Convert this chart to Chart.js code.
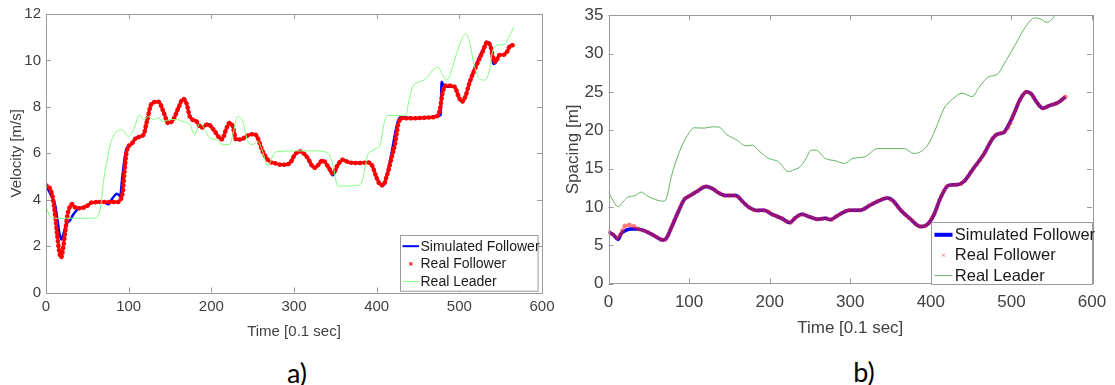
<!DOCTYPE html>
<html>
<head>
<meta charset="utf-8">
<script src="https://cdn.jsdelivr.net/npm/chart.js@4.4.1/dist/chart.umd.min.js"></script>
<style>
    body { margin: 0; background: #fff; width: 1115px; height: 385px; overflow: hidden; position: relative; }
    canvas { position: absolute; top: 0; }
    #velChart { left: 0; }
    #spcChart { left: 560px; }
    .tag { position: absolute; font-family: Lato, "Open Sans", sans-serif; font-size: 27px; color: #000;
           transform: translate(-50%, -50%); }
</style>
</head>
<body>
<canvas id="velChart" width="560" height="345"></canvas>
<canvas id="spcChart" width="555" height="345"></canvas>
<div class="tag" style="left:297px; top:372px;">a)</div>
<div class="tag" style="left:864px; top:371px;">b)</div>
<script>
// ---- a) velocity, time in 0.1 s ----
var velRealT = [0, 3, 5.3, 8.5, 11.3, 13.4, 15.8, 18.2, 20.6, 23.4, 26.2, 29.4, 31.4, 35.5, 41.5, 49.6, 55.6, 69.6, 85.8, 89.8,
    93, 94.6, 97, 99.8, 102, 110, 118, 122, 128, 136, 142, 148, 154, 160, 166, 170, 174, 182, 188, 196,
    202, 210, 213, 218, 222, 226, 230, 236, 242, 252, 256, 262, 270, 278, 285, 295, 301, 307, 315, 325,
    335, 341, 347, 353, 359, 367, 379, 389, 394, 400, 404, 408, 412, 414, 418, 422, 426, 429, 444, 464,
    472, 476, 480, 484, 494, 500, 503, 508, 512, 520, 528, 534, 538, 541, 544, 548, 554, 558, 562, 566];
var velRealV = [4.62, 4.55, 4.45, 4.02, 3.23, 2.52, 1.81, 1.5, 1.88, 2.66, 3.38, 3.73, 3.81, 3.66, 3.63, 3.73, 3.88, 3.9, 3.9, 3.98,
    4.38, 5.09, 5.94, 6.3, 6.35, 6.68, 6.8, 7.37, 8.15, 8.22, 7.8, 7.3, 7.45, 7.94, 8.34, 8.15, 7.58, 7.37, 7.1, 7.25,
    7.05, 6.66, 6.6, 7.05, 7.3, 7.15, 6.59, 6.59, 6.73, 6.83, 6.66, 6.09, 5.66, 5.56, 5.5, 5.57, 5.94, 6.08, 5.87, 5.37,
    5.69, 5.44, 5.13, 5.5, 5.72, 5.6, 5.58, 5.6, 5.5, 4.94, 4.66, 4.62, 5.0, 5.23, 5.8, 6.37, 7.23, 7.51, 7.51, 7.54,
    7.58, 7.8, 8.65, 8.91, 8.87, 8.37, 8.22, 8.51, 9.01, 9.72, 10.36, 10.79, 10.58, 10.08, 9.94, 10.22, 10.25, 10.39, 10.65, 10.65];

var velSimT = [0, 7.3, 11.3, 14, 18.2, 21, 24.6, 28.6, 33.4, 39.5, 45, 49.6, 55.6, 69.6, 75.7, 79.7, 85.8, 89.8, 91.8, 94.6,
    97, 99.8, 102, 110, 118, 122, 128, 136, 142, 148, 154, 160, 166, 170, 174, 182, 188, 196, 202, 210,
    213, 218, 222, 226, 230, 236, 242, 252, 256, 262, 270, 278, 285, 295, 301, 307, 315, 325, 335, 341,
    347, 350, 353, 359, 367, 379, 389, 394, 400, 404, 408, 412, 418, 422, 426, 429, 444, 464, 472, 477.5,
    478.5, 482, 494, 500, 503, 508, 512, 520, 528, 534, 538, 541, 544, 548, 554, 558, 562, 566];
var velSimV = [4.62, 4.1, 3.73, 3.09, 2.28, 2.52, 2.95, 3.09, 3.38, 3.62, 3.66, 3.73, 3.88, 3.9, 3.8, 4.02, 4.26, 4.16, 4.8, 5.66,
    6.16, 6.3, 6.35, 6.68, 6.8, 7.37, 8.15, 8.22, 7.8, 7.3, 7.45, 7.94, 8.34, 8.15, 7.58, 7.37, 7.1, 7.25, 7.05, 6.66,
    6.6, 7.05, 7.3, 7.15, 6.59, 6.59, 6.73, 6.83, 6.66, 6.09, 5.66, 5.56, 5.5, 5.57, 5.94, 6.08, 5.87, 5.37, 5.69, 5.44,
    5.05, 5.2, 5.5, 5.72, 5.6, 5.58, 5.6, 5.5, 4.94, 4.7, 4.6, 5.0, 6.0, 6.8, 7.4, 7.55, 7.51, 7.54, 7.6, 7.65,
    9.08, 8.87, 8.87, 8.37, 8.22, 8.51, 9.01, 9.8, 10.42, 10.79, 10.58, 9.85, 9.9, 10.22, 10.25, 10.39, 10.65, 10.65];

var velLeadT = [0, 4.5, 9, 25, 57.6, 63.6, 66.5, 69.6, 73.7, 77.7, 83.8, 91.8, 99.9, 106, 113, 118, 124, 130, 136, 142,
    150, 158, 166, 174, 180, 186, 192, 198, 206, 214, 222, 226, 232, 238, 244, 250, 256, 262, 268, 272,
    276, 282, 303, 327, 341, 347, 353, 363, 379, 383.5, 389.5, 393.5, 399, 404, 409, 413, 435.7, 438, 443.7, 452,
    460, 468, 474, 480, 484, 488, 496, 504, 508, 512, 518, 524, 530, 536, 540, 544, 554, 560, 566];
var velLeadV = [3.7, 3.3, 3.2, 3.2, 3.2, 3.35, 3.8, 4.8, 5.66, 6.37, 6.87, 7.01, 6.73, 7.01, 7.65, 7.45, 7.58, 7.45, 7.52, 7.37,
    7.45, 7.45, 7.37, 7.23, 6.8, 7.3, 7.05, 6.66, 6.59, 6.37, 6.37, 6.8, 7.58, 7.37, 6.52, 6.37, 6.52, 6.08, 5.44, 5.66,
    6.0, 6.08, 6.1, 6.1, 6.0, 5.5, 4.59, 4.59, 4.62, 4.94, 5.97, 6.08, 6.2, 6.35, 7.3, 7.63, 7.63, 8.08, 8.87, 9.08,
    9.22, 9.58, 9.72, 9.37, 9.15, 9.3, 10.22, 11.0, 11.15, 10.86, 9.79, 9.22, 9.15, 9.51, 10.36, 10.65, 10.69, 11.0, 11.43];

// ---- b) spacing ----
var spcRealT = [0, 6, 12, 16, 22, 28, 35, 47, 57, 68, 72, 78, 86, 94, 102, 110, 121, 129, 137, 145,
    158, 166, 174, 184, 193, 203, 215, 225, 232, 240, 250, 260, 269, 275, 285, 299, 312, 324, 336, 346,
    353, 363, 375, 387, 396, 404, 412, 422, 433, 441, 453, 465, 478, 484, 490, 496, 503, 511, 519, 525,
    531, 539, 547, 558, 567];
var spcRealV = [6.74, 6.35, 5.93, 6.65, 7.64, 7.64, 7.2, 6.78, 6.22, 5.67, 5.93, 7.3, 9.23, 10.95, 11.5, 12.02, 12.67, 12.37, 11.8, 11.47,
    11.47, 10.73, 9.96, 9.53, 9.55, 9.02, 8.5, 7.94, 8.58, 9.02, 8.67, 8.38, 8.5, 8.33, 8.9, 9.57, 9.55, 10.18, 10.82, 11.16,
    10.73, 9.53, 8.38, 7.42, 7.73, 9.02, 11.16, 12.8, 12.89, 13.31, 15.03, 16.75, 19.11, 19.54, 19.67, 20.4, 22.11, 24.05, 25.0, 24.69,
    23.71, 22.85, 23.2, 23.62, 24.35];

var spcSimT = [0, 6, 12, 16, 22, 28, 35, 47, 57, 68, 72, 78, 86, 94, 102, 110, 121, 129, 137, 145,
    158, 166, 174, 184, 193, 203, 215, 225, 232, 240, 250, 260, 269, 275, 285, 299, 312, 324, 336, 346,
    352, 363, 375, 387, 396, 404, 412, 422, 433, 441, 453, 465, 478, 484, 490, 498, 503, 511, 519, 525,
    531, 539, 547, 558, 567];
var spcSimV = [6.74, 6.35, 5.75, 6.55, 6.95, 7.1, 7.1, 6.78, 6.22, 5.67, 5.93, 7.3, 9.23, 10.95, 11.5, 12.02, 12.67, 12.37, 11.8, 11.47,
    11.47, 10.73, 9.96, 9.53, 9.55, 9.02, 8.5, 7.94, 8.58, 9.02, 8.67, 8.38, 8.5, 8.33, 8.9, 9.57, 9.55, 10.18, 10.82, 11.16,
    10.9, 9.53, 8.38, 7.42, 7.73, 9.02, 11.16, 12.8, 12.89, 13.31, 15.03, 16.75, 19.11, 19.54, 19.67, 21.0, 22.11, 24.05, 25.0, 24.69,
    23.71, 22.85, 23.2, 23.62, 24.35];

var spcLeadT = [0, 6, 12, 18, 24, 33, 41, 47, 55, 68, 72, 78, 88, 98, 106, 119, 129, 137, 147, 160,
    170, 178, 188, 199, 211, 223, 230, 238, 244, 252, 258, 269, 281, 293, 303, 318, 334, 367, 379, 396,
    406, 416, 427, 439, 451, 461, 472, 482, 494, 507, 517, 529, 537, 544, 550, 555, 560];
var spcLeadV = [12.0, 10.73, 10.0, 10.64, 11.25, 11.47, 11.93, 11.5, 11.08, 10.73, 11.16, 13.96, 17.18, 19.33, 20.31, 20.27, 20.44, 20.4, 19.41, 18.68,
    17.95, 18.04, 17.18, 16.31, 15.89, 14.6, 14.82, 15.24, 16.1, 17.4, 17.36, 16.31, 16.02, 15.67, 16.31, 16.53, 17.6, 17.6, 16.96, 18.04,
    20.18, 22.76, 24.05, 24.82, 24.39, 25.77, 26.97, 27.27, 29.2, 31.57, 33.4, 34.66, 34.45, 34.06, 34.45, 35.2, 36.2];

var seriesNames = ["Simulated Follower", "Real Follower", "Real Leader"];
var axisTextColor = "#404040";

function pts(ts, vs) {
    var out = [];
    for (var i = 0; i < ts.length; i++) out.push({ x: ts[i], y: vs[i] });
    return out;
}

// MATLAB-like box: frame, inward ticks, legend inside lower right corner
function makeBoxPlugin(cfg) {
    return {
        id: "box_" + cfg.name,
        afterDraw: function (chart) {
            var ctx = chart.ctx;
            var a = chart.chartArea;
            var xs = chart.scales.x, ys = chart.scales.y;
            ctx.save();
            ctx.strokeStyle = "#9a9a9a";
            ctx.lineWidth = 1;
            ctx.strokeRect(Math.round(a.left) + 0.5, Math.round(a.top) + 0.5,
                Math.round(a.right - a.left), Math.round(a.bottom - a.top));
            ctx.beginPath();
            xs.ticks.forEach(function (t) {
                var px = Math.round(xs.getPixelForValue(t.value)) + 0.5;
                ctx.moveTo(px, a.bottom); ctx.lineTo(px, a.bottom - 5);
                ctx.moveTo(px, a.top); ctx.lineTo(px, a.top + 5);
            });
            ys.ticks.forEach(function (t) {
                var py = Math.round(ys.getPixelForValue(t.value)) + 0.5;
                ctx.moveTo(a.left, py); ctx.lineTo(a.left + 5, py);
                ctx.moveTo(a.right, py); ctx.lineTo(a.right - 5, py);
            });
            ctx.stroke();

            // legend
            var L = cfg.legend;
            var bx = Math.round(a.right - L.insetR - L.w) + 0.5;
            var by = Math.round(a.bottom - L.insetB - L.h) + 0.5;
            ctx.fillStyle = "#fff";
            ctx.fillRect(bx, by, L.w, L.h);
            ctx.strokeStyle = "#9a9a9a";
            ctx.strokeRect(bx, by, L.w, L.h);
            ctx.font = L.font + "px 'Liberation Sans', Arial, sans-serif";
            ctx.textBaseline = "middle";
            ctx.textAlign = "left";
            chart.data.datasets.forEach(function (ds, i) {
                var ry = by + L.row0 + i * L.rowGap;
                var x0 = bx + L.s0, x1 = bx + L.s1;
                if (cfg.markers[i] === "line") {
                    ctx.strokeStyle = ds.borderColor;
                    ctx.lineWidth = cfg.legendWidths[i];
                    ctx.setLineDash([]);
                    ctx.beginPath(); ctx.moveTo(x0, ry); ctx.lineTo(x1, ry); ctx.stroke();
                } else {
                    var cx = (x0 + x1) / 2;
                    ctx.strokeStyle = cfg.markerColor;
                    ctx.lineWidth = 1;
                    ctx.beginPath();
                    ctx.moveTo(cx - 1.5, ry - 1.5); ctx.lineTo(cx + 1.5, ry + 1.5);
                    ctx.moveTo(cx - 1.5, ry + 1.5); ctx.lineTo(cx + 1.5, ry - 1.5);
                    if (cfg.markers[i] === "star") {
                        ctx.moveTo(cx - 1.8, ry); ctx.lineTo(cx + 1.8, ry);
                        ctx.moveTo(cx, ry - 1.8); ctx.lineTo(cx, ry + 1.8);
                    }
                    ctx.stroke();
                }
                ctx.fillStyle = "#1a1a1a";
                ctx.fillText(ds.label, bx + L.t0, ry + 0.5);
            });
            ctx.restore();
        }
    };
}

function makeChart(canvasId, c) {
    var ctx = document.getElementById(canvasId).getContext("2d");
    return new Chart(ctx, {
        type: "scatter",
        data: { datasets: c.datasets },
        options: {
            responsive: false,
            animation: false,
            layout: { padding: c.padding },
            plugins: { legend: { display: false }, tooltip: { enabled: false } },
            elements: { point: { radius: 0 } },
            scales: {
                x: {
                    type: "linear", min: 0, max: 600,
                    grid: { display: false, drawTicks: false },
                    border: { display: false },
                    ticks: { stepSize: 100, padding: c.xTickPad, color: axisTextColor, maxRotation: 0,
                        font: { family: "'Liberation Sans', Arial, sans-serif", size: c.font } },
                    title: { display: true, text: "Time [0.1 sec]", color: axisTextColor,
                        padding: { top: 0, bottom: c.xTitlePad },
                        font: { family: "'Liberation Sans', Arial, sans-serif", size: c.font } },
                    afterFit: function (s) { s.height = c.xHeight; }
                },
                y: {
                    type: "linear", min: 0, max: c.yMax,
                    grid: { display: false, drawTicks: false },
                    border: { display: false },
                    ticks: { stepSize: c.yStep, padding: 5, color: axisTextColor,
                        font: { family: "'Liberation Sans', Arial, sans-serif", size: c.font } },
                    title: { display: true, text: c.yTitle, color: axisTextColor,
                        padding: { top: c.yTitlePad, bottom: 0 },
                        font: { family: "'Liberation Sans', Arial, sans-serif", size: c.font } },
                    afterFit: function (s) { s.width = c.yWidth; }
                }
            }
        },
        plugins: [makeBoxPlugin(c.box)]
    });
}

function lineSet(label, data, color, width, order, dash) {
    return {
        label: label, data: data, showLine: true, borderColor: color, backgroundColor: color,
        borderWidth: width, pointRadius: 0, order: order, cubicInterpolationMode: "monotone",
        borderDash: dash || [], borderCapStyle: dash ? "round" : "butt"
    };
}

makeChart("velChart", {
    padding: { left: 0, right: 17, top: 12, bottom: 2 },
    font: 15, xTickPad: 5.5, xTitlePad: 2, xHeight: 50.5,
    yMax: 12, yStep: 2, yTitle: "Velocity [m/s]", yTitlePad: 8, yWidth: 46,
    datasets: [
        lineSet(seriesNames[0], pts(velSimT, velSimV), "#0000ff", 2.5, 3),
        lineSet(seriesNames[1], pts(velRealT, velRealV), "#ff0000", 4.5, 2, [0.5, 4]),
        lineSet(seriesNames[2], pts(velLeadT, velLeadV), "#80ff80", 1, 1)
    ],
    box: {
        name: "vel", markers: ["line", "star", "line"], markerColor: "#ff2020", legendWidths: [2, 1, 1],
        legend: { w: 137.6, h: 55.7, insetR: 4.5, insetB: 1.8, row0: 10.7, rowGap: 17.7, s0: 2, s1: 18.6, t0: 20, font: 14 }
    }
});

makeChart("spcChart", {
    padding: { left: 0, right: 19, top: 11.7, bottom: 4 },
    font: 17, xTickPad: 8.8, xTitlePad: 2.8, xHeight: 57.5,
    yMax: 35, yStep: 5, yTitle: "Spacing [m]", yTitlePad: 2.8, yWidth: 48.5,
    datasets: [
        lineSet(seriesNames[0], pts(spcSimT, spcSimV), "#0000ff", 3.5, 3),
        lineSet(seriesNames[1], pts(spcRealT, spcRealV), "rgba(255,30,30,0.6)", 4.5, 2, [0.5, 4.5]),
        lineSet(seriesNames[2], pts(spcLeadT, spcLeadV), "#62b462", 1, 1)
    ],
    box: {
        name: "spc", markers: ["line", "x", "line"], markerColor: "#ff8080", legendWidths: [4, 1, 1],
        legend: { w: 161, h: 62, insetR: 0, insetB: 0, row0: 12.3, rowGap: 20.4, s0: 3, s1: 21, t0: 23.3, font: 16.5 }
    }
});
</script>
</body>
</html>
